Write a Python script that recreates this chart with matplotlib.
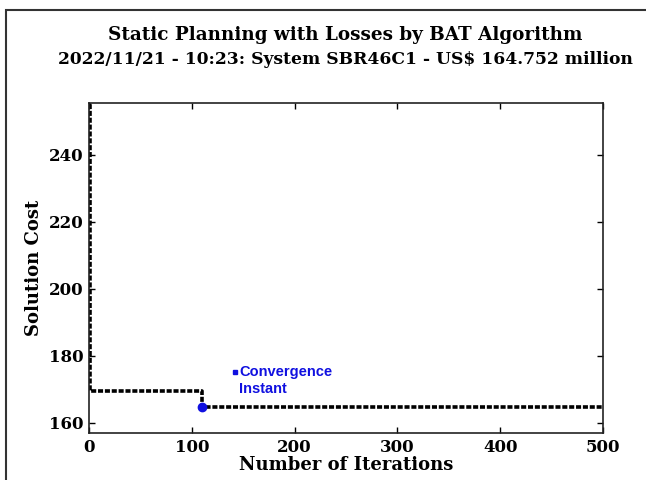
import matplotlib
matplotlib.use("Agg")
import matplotlib.pyplot as plt
from matplotlib.patches import Rectangle

# Data
iterations = [0, 1, 1, 110, 110, 500]
solution_cost = [255.0, 255.0, 169.5, 169.5, 164.752, 164.752]
conv_iter = 110
conv_cost = 164.752
xticks = [0, 100, 200, 300, 400, 500]
yticks = [160, 180, 200, 220, 240]

title1 = "Static Planning with Losses by BAT Algorithm"
title2 = "2022/11/21 - 10:23: System SBR46C1 - US$ 164.752 million"

W, H = 646, 480
fig = plt.figure(figsize=(W / 100, H / 100), dpi=100)
fig.patch.set_facecolor("white")

# outer frame (cropped figure border)
fig.patches.append(Rectangle((6 / W, -0.5), 1.5, 1 - 10 / H + 0.5,
                             transform=fig.transFigure, fill=False,
                             edgecolor="#333333", linewidth=1.5))

ax = fig.add_axes([89 / W, 1 - 433 / H, (603 - 89) / W, (433 - 103) / H])
serif = "DejaVu Serif"

ax.plot(iterations, solution_cost, color="black", linestyle=(0, (1.4, 0.5)),
        linewidth=2.6, solid_capstyle="butt", dash_capstyle="butt")
ax.plot([conv_iter], [conv_cost], "o", color="#1010e0", markersize=6, zorder=5)

# convergence label
ax.plot([142], [175.3], "s", color="#1010e0", markersize=3.5)
ax.text(146, 177.3, "Convergence\nInstant", color="#1010e0", fontsize=10.5,
        fontweight="bold", family="Liberation Sans", va="top", ha="left",
        linespacing=1.25)

ax.set_xlim(0, 500)
ax.set_ylim(157, 255.5)
ax.set_xticks(xticks)
ax.set_yticks(yticks)
ax.tick_params(direction="in", top=True, right=True, length=4, width=1,
               labelsize=12, pad=4)
for lab in ax.get_xticklabels() + ax.get_yticklabels():
    lab.set_family(serif)
    lab.set_fontweight("bold")
for s in ax.spines.values():
    s.set_linewidth(1.2)
    s.set_color("#222222")

ax.set_xlabel("Number of Iterations", family=serif, fontweight="bold",
              fontsize=13, labelpad=0)
ax.set_ylabel("Solution Cost", family=serif, fontweight="bold",
              fontsize=13, labelpad=4)

t1 = fig.text(345 / W, 1 - 35 / H, title1, ha="center", va="center",
              family=serif, fontweight="bold", fontsize=12.5)
t2 = fig.text(345 / W, 1 - 60 / H, title2, ha="center", va="center",
              family=serif, fontweight="bold", fontsize=12.5)

# fit title widths to the reference layout
fig.canvas.draw()
r = fig.canvas.get_renderer()
target = {t1: 476.0, t2: 575.0}
for t, w in target.items():
    cur = t.get_window_extent(r).width
    t.set_fontsize(t.get_fontsize() * w / cur)

fig.savefig("out.png", dpi=100)
